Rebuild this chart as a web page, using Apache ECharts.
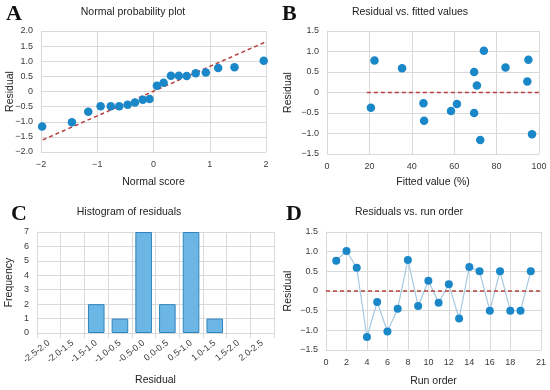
<!DOCTYPE html>
<html><head><meta charset="utf-8">
<script src="https://cdn.jsdelivr.net/npm/echarts@6/dist/echarts.min.js"></script>
<style>html,body{margin:0;padding:0;background:#fff}#c{width:550px;height:390px}</style>
</head><body><div id="c"></div>
<script>
// Panel A: normal probability plot
const normalScores = [-1.98,-1.45,-1.16,-0.94,-0.76,-0.61,-0.46,-0.33,-0.19,-0.07,0.06,0.18,0.31,0.45,0.59,0.75,0.93,1.15,1.44,1.96];
const sortedResiduals = [-1.16,-1.02,-0.67,-0.49,-0.49,-0.49,-0.44,-0.36,-0.27,-0.25,0.19,0.29,0.52,0.52,0.51,0.60,0.63,0.78,0.80,1.02];
const refLineA = [[-1.97,-1.6],[1.97,1.62]];
// Panel B: residual vs fitted
const fittedValues = [22.4,20.7,35.4,45.5,45.8,58.5,61.3,69.4,69.4,70.7,72.3,74.0,84.2,94.5,95.0,96.7];
const fittedResiduals = [0.78,-0.37,0.59,-0.26,-0.69,-0.45,-0.28,0.50,-0.50,0.17,-1.16,1.02,0.61,0.27,0.80,-1.02];
const refLineB = [[18.8,0],[100,0]];
// Panel C: histogram
const binLabels = ["-2.5-2.0","-2.0-1.5","-1.5-1.0","-1.0-0.5","-0.5-0.0","0.0-0.5","0.5-1.0","1.0-1.5","1.5-2.0","2.0-2.5"];
const binCounts = [0,0,2,1,7,2,7,1,0,0];
// Panel D: run order
const runOrder = [1,2,3,4,5,6,7,8,9,10,11,12,13,14,15,16,17,18,19,20];
const runResiduals = [0.77,1.02,0.59,-1.17,-0.28,-1.03,-0.45,0.79,-0.38,0.26,-0.30,0.17,-0.70,0.61,0.50,-0.50,0.50,-0.50,-0.50,0.50];
const runTicks = [0,2,4,6,8,10,12,14,16,18,21];

const FONT = 'Liberation Sans, Arial, sans-serif';
const gridColor = '#d9d9d9';
const labelColor = '#3a3a3a';
const dotColor = '#1a87c8';
const redDash = '#b8403f';
const TICK = 9;
const fmt1 = v => v === 0 ? '0' : v.toFixed(1).replace('-', '\u2212');
const fmt0 = v => String(v).replace('-', '\u2212');
const lab = extra => Object.assign({color: labelColor, fontSize: TICK, fontFamily: FONT}, extra || {});

function valAxis(o) {
  return Object.assign({
    type: 'value',
    axisLine: {show: true, lineStyle: {color: gridColor}},
    axisTick: {show: false},
    splitLine: {show: true, lineStyle: {color: gridColor, width: 1}},
    axisLabel: lab(),
    nameTextStyle: {color: '#222', fontSize: 10.5, fontFamily: FONT},
    nameLocation: 'middle',
    nameMoveOverlap: false
  }, o);
}

const titleStyle = {fontSize: 10.5, fontWeight: 'normal', color: '#222', fontFamily: FONT};
const letterStyle = {fontSize: 22, fontWeight: 'bold', color: '#111', fontFamily: 'Liberation Serif, Times New Roman, serif'};

const option = {
  animation: false,
  backgroundColor: '#fff',
  title: [
    {text: 'A', left: 6, top: 3, padding: 0, textStyle: letterStyle},
    {text: 'B', left: 282, top: 3, padding: 0, textStyle: letterStyle},
    {text: 'C', left: 11, top: 203, padding: 0, textStyle: letterStyle},
    {text: 'D', left: 286, top: 203, padding: 0, textStyle: letterStyle},
    {text: 'Normal probability plot', left: 133, top: 7, padding: 0, textAlign: 'center', textStyle: titleStyle},
    {text: 'Residual vs. fitted values', left: 410, top: 7, padding: 0, textAlign: 'center', textStyle: titleStyle},
    {text: 'Histogram of residuals', left: 129, top: 207, padding: 0, textAlign: 'center', textStyle: titleStyle},
    {text: 'Residuals vs. run order', left: 409, top: 207, padding: 0, textAlign: 'center', textStyle: titleStyle}
  ],
  grid: [
    {left: 41, top: 31, width: 225, height: 121},
    {left: 327, top: 31, width: 212, height: 123},
    {left: 37, top: 232, width: 237, height: 101},
    {left: 326, top: 232, width: 215, height: 118}
  ],
  xAxis: [
    valAxis({gridIndex: 0, min: -2, max: 2, interval: 1, name: 'Normal score', nameGap: 25, axisLabel: lab({formatter: fmt0})}),
    valAxis({gridIndex: 1, min: 0, max: 100, interval: 20, name: 'Fitted value (%)', nameGap: 23}),
    {type: 'category', gridIndex: 2, data: binLabels, name: 'Residual', nameLocation: 'middle', nameGap: 42, nameMoveOverlap: false,
      nameTextStyle: {color: '#222', fontSize: 10.5, fontFamily: FONT},
      axisLine: {show: true, lineStyle: {color: gridColor}},
      axisTick: {show: true, length: 5, lineStyle: {color: gridColor}},
      splitLine: {show: true, lineStyle: {color: gridColor}},
      axisLabel: lab({rotate: 38, interval: 0, margin: 9})},
    valAxis({gridIndex: 3, min: 0, max: 21, interval: 1, name: 'Run order', nameGap: 26,
      axisLabel: lab({customValues: runTicks}),
      axisTick: {show: false, customValues: runTicks},
      splitLine: {show: true, lineStyle: {color: gridColor}, customValues: runTicks}})
  ],
  yAxis: [
    valAxis({gridIndex: 0, min: -2, max: 2, interval: 0.5, name: 'Residual', nameGap: 25, axisLabel: lab({formatter: fmt1})}),
    valAxis({gridIndex: 1, min: -1.5, max: 1.5, interval: 0.5, name: 'Residual', nameGap: 33, axisLabel: lab({formatter: fmt1})}),
    valAxis({gridIndex: 2, min: 0, max: 7, interval: 1, name: 'Frequency', nameGap: 22}),
    valAxis({gridIndex: 3, min: -1.5, max: 1.5, interval: 0.5, name: 'Residual', nameGap: 32, axisLabel: lab({formatter: fmt1})})
  ],
  series: [
    {type: 'line', xAxisIndex: 0, yAxisIndex: 0, data: refLineA, symbol: 'none', lineStyle: {color: redDash, width: 1.5, type: [4, 3]}, z: 1},
    {type: 'scatter', xAxisIndex: 0, yAxisIndex: 0, data: normalScores.map((x, i) => [x, sortedResiduals[i]]), symbolSize: 8.5, itemStyle: {color: dotColor, opacity: 1}, z: 3},
    {type: 'line', xAxisIndex: 1, yAxisIndex: 1, data: refLineB, symbol: 'none', lineStyle: {color: redDash, width: 1.5, type: [4, 3]}, z: 1},
    {type: 'scatter', xAxisIndex: 1, yAxisIndex: 1, data: fittedValues.map((x, i) => [x, fittedResiduals[i]]), symbolSize: 8.5, itemStyle: {color: dotColor, opacity: 1}, z: 3},
    {type: 'bar', xAxisIndex: 2, yAxisIndex: 2, data: binCounts.map(v => v === 0 ? '-' : v), barCategoryGap: '30%', itemStyle: {color: '#6cb6e6', borderColor: '#2f84bd', borderWidth: 1}},
    {type: 'line', xAxisIndex: 3, yAxisIndex: 3, data: runOrder.map((x, i) => [x, runResiduals[i]]),
      symbol: 'circle', symbolSize: 8, itemStyle: {color: dotColor}, lineStyle: {color: '#a6c9e2', width: 1.2},
      markLine: {silent: true, symbol: 'none', label: {show: false}, data: [{yAxis: 0}], lineStyle: {color: redDash, width: 1.5, type: [4, 3]}}}
  ]
};
echarts.init(document.getElementById('c'), null, {renderer: 'canvas'}).setOption(option);
</script></body></html>
